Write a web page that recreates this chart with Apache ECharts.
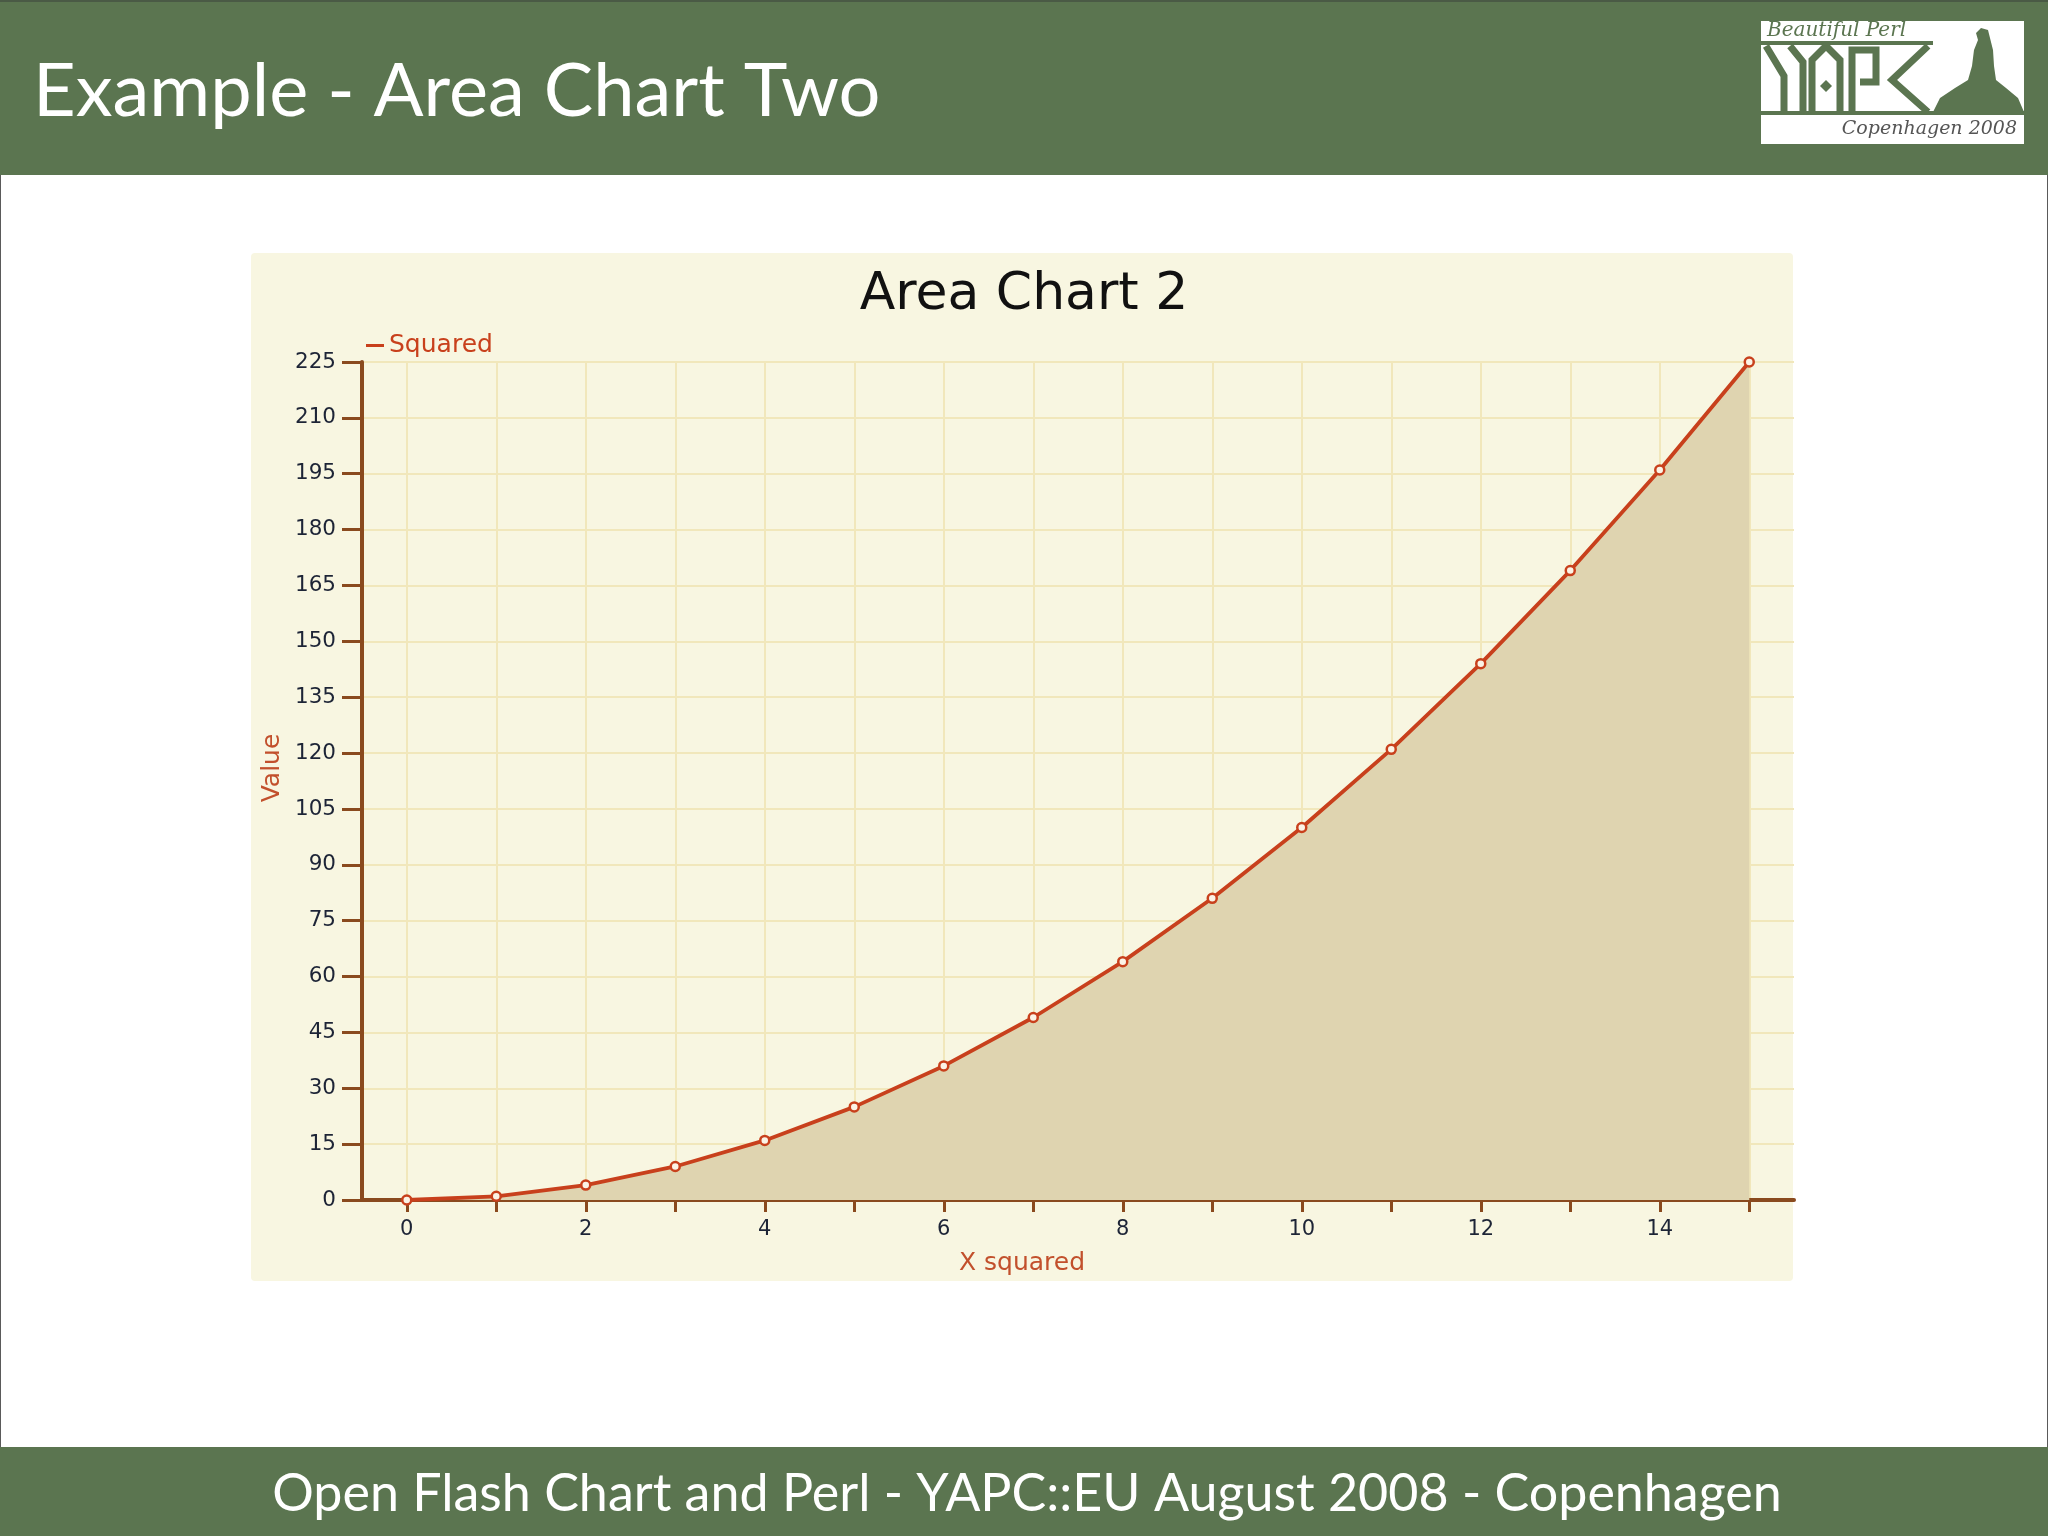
<!DOCTYPE html>
<html>
<head>
<meta charset="utf-8">
<script src="https://cdn.jsdelivr.net/npm/echarts@6/dist/echarts.min.js"></script>
<style>
html,body{margin:0;padding:0;background:#ffffff;}
#chart{width:2048px;height:1536px;}
</style>
</head>
<body>
<div id="chart"></div>
<script>
// ---- data ----
const categories = ['0','1','2','3','4','5','6','7','8','9','10','11','12','13','14','15'];
const squaredValues = [0, 1, 4, 9, 16, 25, 36, 49, 64, 81, 100, 121, 144, 169, 196, 225];
const seriesName = 'Squared';
const chartTitle = 'Area Chart 2';
const slideTitle = 'Example - Area Chart Two';
const footerText = 'Open Flash Chart and Perl - YAPC::EU August 2008 - Copenhagen';
const yAxisName = 'Value';
const xAxisName = 'X squared';

const green = '#5b7550';
const brown = '#8a4a1e';
const red = '#c8401c';
const gridCol = '#f1e7bb';

const chart = echarts.init(document.getElementById('chart'));

const logoStroke = {stroke: green, lineWidth: 7, fill: null, lineJoin: 'miter'};

chart.setOption({
  animation: false,
  backgroundColor: '#ffffff',
  title: {
    text: chartTitle,
    left: 'center',
    top: 264,
    textStyle: {fontFamily: 'DejaVu Sans', fontSize: 52, fontWeight: 'normal', color: '#111111'}
  },
  legend: {
    data: [seriesName],
    left: 361,
    top: 328,
    icon: 'rect',
    itemWidth: 18,
    itemHeight: 3,
    itemGap: 4,
    textStyle: {fontFamily: 'DejaVu Sans', fontSize: 25, color: red, padding: [0, 0, 0, 0]},
    itemStyle: {color: red, borderWidth: 0}
  },
  grid: {left: 362, top: 362, width: 1432, height: 838, containLabel: false},
  xAxis: {
    type: 'category',
    data: categories,
    boundaryGap: true,
    axisLine: {lineStyle: {color: brown, width: 4}},
    axisTick: {show: true, alignWithLabel: true, interval: 0, length: 12, lineStyle: {color: brown, width: 3}},
    axisLabel: {interval: 1, margin: 19, fontFamily: 'DejaVu Sans', fontSize: 21, color: '#1d2436'},
    splitLine: {show: true, interval: 0, alignWithLabel: true, lineStyle: {color: gridCol, width: 2}}
  },
  yAxis: {
    type: 'value',
    min: 0,
    max: 225,
    interval: 15,
    axisLine: {show: true, lineStyle: {color: brown, width: 4}},
    axisTick: {show: true, length: 20, lineStyle: {color: brown, width: 3}},
    axisLabel: {margin: 26, fontFamily: 'DejaVu Sans', fontSize: 21.5, color: '#1d2436'},
    splitLine: {show: true, lineStyle: {color: gridCol, width: 2}}
  },
  series: [{
    name: seriesName,
    type: 'line',
    data: squaredValues,
    smooth: false,
    symbol: 'circle',
    symbolSize: 9,
    z: 5,
    lineStyle: {color: red, width: 3.8},
    itemStyle: {color: '#fbf3e6', borderColor: red, borderWidth: 2.5},
    areaStyle: {color: '#dfd4b0', opacity: 1}
  }],
  graphic: [
    // slide frame
    {type: 'rect', z: -100, shape: {x: 0, y: 0, width: 2048, height: 1536}, style: {fill: '#ffffff', stroke: '#5a5a5a', lineWidth: 2}},
    // header band
    {type: 'rect', z: -90, shape: {x: 0, y: 0, width: 2048, height: 175}, style: {fill: green}},
    {type: 'rect', z: -89, shape: {x: 0, y: 0, width: 2048, height: 2}, style: {fill: '#4a5a45'}},
    {type: 'text', z: 50, style: {text: slideTitle, x: 33, y: 92, textVerticalAlign: 'middle', font: '74px Lato', fill: '#ffffff',
      shadowColor: 'rgba(0,0,0,0.55)', shadowBlur: 4, shadowOffsetX: 2, shadowOffsetY: 2}},
    // footer band
    {type: 'rect', z: -90, shape: {x: 0, y: 1447, width: 2048, height: 89}, style: {fill: green}},
    {type: 'text', z: 50, style: {text: footerText, x: 1027, y: 1494, textAlign: 'center', textVerticalAlign: 'middle', font: '52px Lato', fill: '#ffffff',
      shadowColor: 'rgba(0,0,0,0.55)', shadowBlur: 4, shadowOffsetX: 2, shadowOffsetY: 2}},
    // chart panel
    {type: 'rect', z: -80, shape: {x: 251, y: 253, width: 1542, height: 1028, r: 4}, style: {fill: '#f8f6e1'}},
    // axis names
    {type: 'text', z: 50, style: {text: xAxisName, x: 1022, y: 1263, textAlign: 'center', textVerticalAlign: 'middle', font: '25px "DejaVu Sans"', fill: '#c2502c'}},
    {type: 'text', z: 50, x: 272, y: 768, rotation: Math.PI / 2, style: {text: yAxisName, x: 0, y: 0, textAlign: 'center', textVerticalAlign: 'middle', font: '25px "DejaVu Sans"', fill: '#c2502c'}},
    // logo
    {type: 'rect', z: 10, shape: {x: 1761, y: 21, width: 263, height: 123}, style: {fill: '#ffffff'}},
    {type: 'text', z: 12, style: {text: 'Beautiful Perl', x: 1767, y: 31, textVerticalAlign: 'middle', font: 'italic 20px "DejaVu Serif"', fill: green}},
    {type: 'rect', z: 12, shape: {x: 1761, y: 41, width: 172, height: 4}, style: {fill: green}},
    {type: 'rect', z: 12, shape: {x: 1761, y: 111, width: 263, height: 4}, style: {fill: green}},
    {type: 'polyline', z: 12, shape: {points: [[1766, 46], [1784, 76], [1784, 112]]}, style: logoStroke},
    {type: 'polyline', z: 12, shape: {points: [[1790, 46], [1803, 62], [1803, 112]]}, style: logoStroke},
    {type: 'polyline', z: 12, shape: {points: [[1812, 112], [1812, 60], [1826, 46], [1840, 60], [1840, 112]]}, style: logoStroke},
    {type: 'polygon', z: 12, shape: {points: [[1826, 80], [1832, 86], [1826, 92], [1820, 86]]}, style: {fill: green}},
    {type: 'polyline', z: 12, shape: {points: [[1852, 112], [1852, 50], [1876, 50], [1876, 82], [1860, 82]]}, style: logoStroke},
    {type: 'polyline', z: 12, shape: {points: [[1928, 46], [1892, 80], [1928, 112]]}, style: logoStroke},
    {type: 'polygon', z: 12, shape: {points: [[1933, 112], [1940, 98], [1955, 88], [1968, 80], [1972, 66], [1974, 50], [1978, 40], [1976, 33], [1981, 28], [1988, 30], [1990, 38], [1993, 50], [1994, 66], [1996, 80], [2006, 88], [2018, 98], [2024, 112]]}, style: {fill: green}},
    {type: 'text', z: 12, style: {text: 'Copenhagen 2008', x: 2017, y: 129, textAlign: 'right', textVerticalAlign: 'middle', font: 'italic 19px "DejaVu Serif"', fill: '#555555'}}
  ]
});
</script>
</body>
</html>
